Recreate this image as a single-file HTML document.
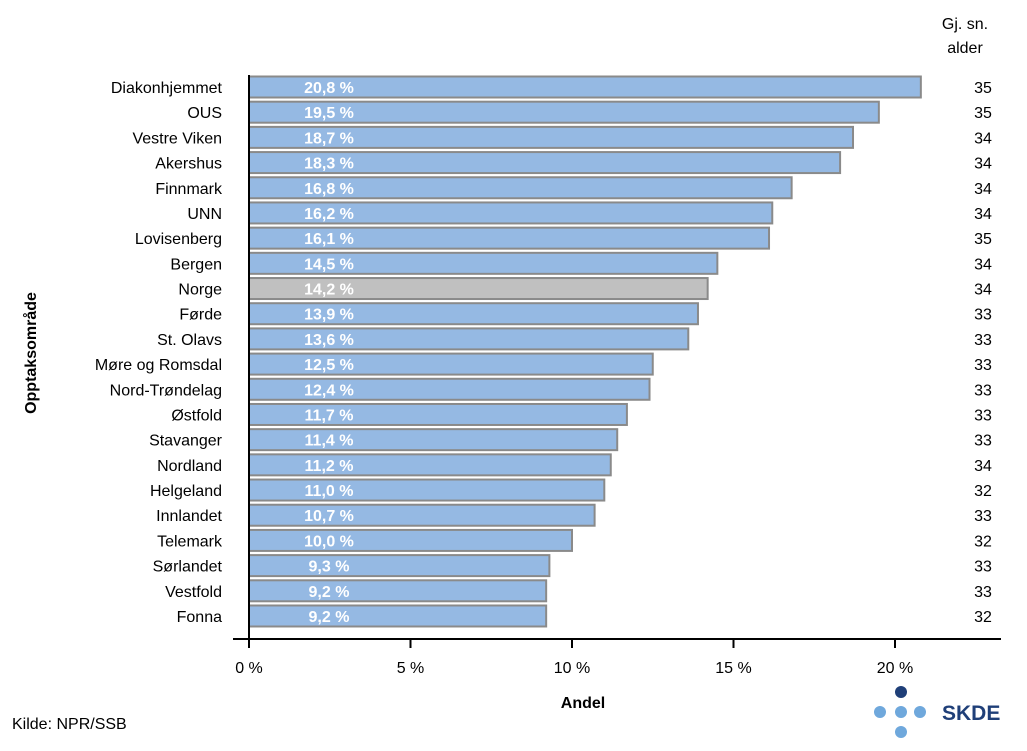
<!DOCTYPE html>
<html><head><meta charset="utf-8"><style>
body{margin:0;background:#fff;font-family:"Liberation Sans",sans-serif}
svg text{font-family:"Liberation Sans",sans-serif}
</style></head><body>
<svg width="1027" height="746">
<g id="bars"></g>
<line x1="249" y1="75" x2="249" y2="639" stroke="#000" stroke-width="2"/>
<line x1="233" y1="639" x2="1001" y2="639" stroke="#000" stroke-width="2"/>
<g id="ticks"></g>
<text x="583" y="708" font-size="16" font-weight="bold" text-anchor="middle">Andel</text>
<text transform="translate(36,353) rotate(-90)" font-size="16" font-weight="bold" text-anchor="middle">Opptaksområde</text>
<text x="965" y="29" font-size="16" text-anchor="middle">Gj. sn.</text>
<text x="965" y="53" font-size="16" text-anchor="middle">alder</text>
<text x="12" y="729" font-size="16">Kilde: NPR/SSB</text>
<g>
<circle cx="901" cy="692" r="6" fill="#1f3f78"/>
<circle cx="880" cy="712" r="6" fill="#6fa8dc"/>
<circle cx="901" cy="712" r="6" fill="#6fa8dc"/>
<circle cx="920" cy="712" r="6" fill="#6fa8dc"/>
<circle cx="901" cy="732" r="6" fill="#6fa8dc"/>
<text x="942" y="720" font-size="21" font-weight="bold" fill="#1f3f78">SKDE</text>
</g>
</svg>
<script>
const categories=["Diakonhjemmet","OUS","Vestre Viken","Akershus","Finnmark","UNN","Lovisenberg","Bergen","Norge","Førde","St. Olavs","Møre og Romsdal","Nord-Trøndelag","Østfold","Stavanger","Nordland","Helgeland","Innlandet","Telemark","Sørlandet","Vestfold","Fonna"];
const values=[20.8,19.5,18.7,18.3,16.8,16.2,16.1,14.5,14.2,13.9,13.6,12.5,12.4,11.7,11.4,11.2,11.0,10.7,10.0,9.3,9.2,9.2];
const ages=[35,35,34,34,34,34,35,34,34,33,33,33,33,33,33,34,32,33,32,33,33,32];
const ticks=[0,5,10,15,20];
const NS="http://www.w3.org/2000/svg";
const x=v=>249+v*32.3;
const yc=i=>87+i*25.19;
const bars=document.getElementById('bars');
function mk(tag,attrs,parent){const e=document.createElementNS(NS,tag);for(const k in attrs)e.setAttribute(k,attrs[k]);parent.appendChild(e);return e;}
categories.forEach((c,i)=>{
  const r=mk('rect',{x:249,y:yc(i)-10.5,width:x(values[i])-249,height:21,fill:c==="Norge"?"#c0c0c0":"#95b9e3",stroke:"#8a8a8a","stroke-width":2},bars);
  
  
  const t=mk('text',{x:329,y:yc(i)+6,"font-size":16,"font-weight":"bold",fill:"#fff","text-anchor":"middle"},bars);
  t.textContent=values[i].toFixed(1).replace('.',',')+' %';
  
  
  const l=mk('text',{x:222,y:yc(i)+6,"font-size":16,"text-anchor":"end"},bars);
  l.textContent=c;
  
  
  const a=mk('text',{x:983,y:yc(i)+6,"font-size":16,"text-anchor":"middle"},bars);
  a.textContent=ages[i];
  
  
});
const tg=document.getElementById('ticks');
ticks.forEach(v=>{
  const ln=mk('line',{x1:x(v),x2:x(v),y1:639,y2:648,stroke:"#000","stroke-width":2},tg);
  
  
  const t=mk('text',{x:x(v),y:673,"font-size":16,"text-anchor":"middle"},tg);
  t.textContent=v+' %';
  
  
});
</script>
</body></html>
